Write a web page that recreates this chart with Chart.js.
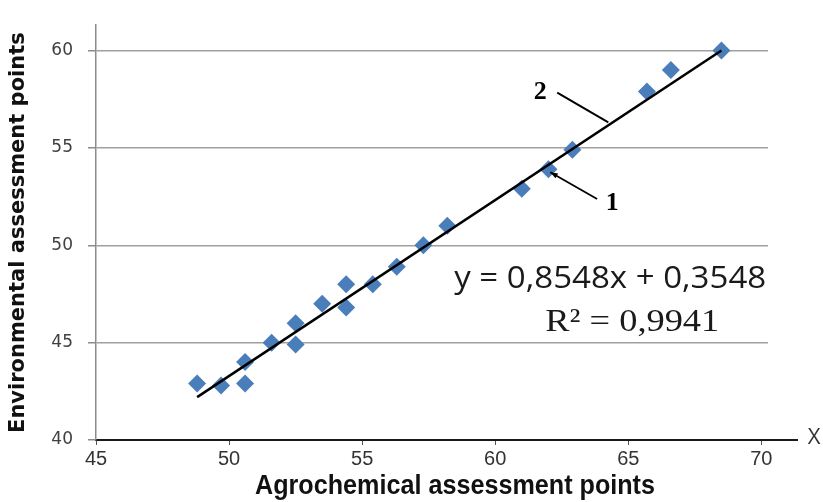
<!DOCTYPE html>
<html>
<head>
<meta charset="utf-8">
<script src="https://cdn.jsdelivr.net/npm/chart.js@4/dist/chart.umd.min.js"></script>
<style>
  html, body { margin: 0; padding: 0; background: #ffffff; }
  #wrap { width: 823px; height: 502px; }
</style>
</head>
<body>
<div id="wrap"><canvas id="c" width="823" height="502"></canvas></div>
<script>
// ---- data ----
const agroPoints = [48.8, 49.7, 50.6, 50.6, 51.6, 52.5, 52.5, 53.5, 54.4, 54.4, 55.4, 56.3, 57.3, 58.2, 61.0, 62.0, 62.9, 65.7, 66.6, 68.5];
const envPoints  = [42.9, 42.8, 42.9, 44.0, 45.0, 44.9, 46.0, 47.0, 48.0, 46.8, 48.0, 48.9, 50.0, 51.0, 52.9, 53.9, 54.9, 57.9, 59.0, 60.0];
const trendX = [48.8, 68.5];
const trendY = [42.2, 60.0];
const xTickValues = [45, 50, 55, 60, 65, 70];
const yTickValues = [40, 45, 50, 55, 60];
const equationText = 'y = 0,8548x + 0,3548';
const r2Text = 'R² = 0,9941';
const xAxisTitle = 'Agrochemical assessment points';
const yAxisTitle = 'Environmental assessment points';

const scatterData = agroPoints.map((x, i) => ({ x: x, y: envPoints[i] }));
const trendData = trendX.map((x, i) => ({ x: x, y: trendY[i] }));

const annotate = {
  id: 'annotate',
  afterDraw(chart) {
    const ctx = chart.ctx;
    const xs = chart.scales.x, ys = chart.scales.y;
    const px = v => xs.getPixelForValue(v);
    const py = v => ys.getPixelForValue(v);
    const area = chart.chartArea;
    ctx.save();

    // extension of the x axis line and its "X" label
    ctx.strokeStyle = '#1a1a1a';
    ctx.lineWidth = 2;
    ctx.beginPath();
    ctx.moveTo(area.right, area.bottom);
    ctx.lineTo(area.right + 30, area.bottom);
    ctx.stroke();
    ctx.fillStyle = '#333333';
    ctx.font = '22px "Open Sans", sans-serif';
    ctx.textAlign = 'center';
    ctx.textBaseline = 'middle';
    ctx.fillText('X', area.right + 46, area.bottom - 2);

    // fitted text helper (condensed horizontally to the reference width)
    function fitText(text, font, cx, cy, targetW, color) {
      ctx.font = font;
      const w = ctx.measureText(text).width;
      ctx.save();
      ctx.translate(cx, cy);
      ctx.scale(targetW / w, 1);
      ctx.fillStyle = color;
      ctx.textAlign = 'center';
      ctx.textBaseline = 'middle';
      ctx.fillText(text, 0, 0);
      ctx.restore();
    }
    fitText(equationText, '31px "Open Sans", sans-serif', px(64.32), py(48.24), 312, '#1a1a1a');
    fitText(r2Text, '32px "Liberation Serif", serif', px(65.15), py(46.03), 174, '#1a1a1a');

    // x axis title
    fitText(xAxisTitle, 'bold 27px "Liberation Sans", Arial, sans-serif', (area.left + area.right) / 2 + 23, chart.height - 15, 400, '#111111');

    // label 2 with leader line
    ctx.fillStyle = '#000';
    ctx.font = 'bold 26px "Liberation Serif", serif';
    ctx.textAlign = 'center';
    ctx.textBaseline = 'middle';
    ctx.fillText('2', px(61.69), py(57.84));
    ctx.strokeStyle = '#000';
    ctx.lineWidth = 2;
    ctx.beginPath();
    ctx.moveTo(px(62.33), py(57.84));
    ctx.lineTo(px(64.25), py(56.31));
    ctx.stroke();

    // label 1 with arrow
    ctx.fillText('1', px(64.4), py(52.18));
    const ax0 = px(63.83), ay0 = py(52.38), ax1 = px(62.07), ay1 = py(53.75);
    ctx.lineWidth = 1.8;
    ctx.beginPath();
    ctx.moveTo(ax0, ay0);
    ctx.lineTo(ax1, ay1);
    ctx.stroke();
    const ang = Math.atan2(ay1 - ay0, ax1 - ax0);
    const ah = 8;
    ctx.beginPath();
    ctx.moveTo(ax1, ay1);
    ctx.lineTo(ax1 - ah * Math.cos(ang - 0.35), ay1 - ah * Math.sin(ang - 0.35));
    ctx.lineTo(ax1 - ah * Math.cos(ang + 0.35), ay1 - ah * Math.sin(ang + 0.35));
    ctx.closePath();
    ctx.fill();

    ctx.restore();
  }
};

new Chart(document.getElementById('c'), {
  type: 'scatter',
  data: {
    datasets: [
      {
        label: 'trend',
        type: 'line',
        data: trendData,
        showLine: true,
        borderColor: '#000000',
        borderWidth: 2.5,
        pointRadius: 0,
        fill: false,
        order: 0
      },
      {
        label: 'points',
        data: scatterData,
        pointStyle: 'rectRot',
        pointRadius: 9,
        pointBackgroundColor: '#4a7ebb',
        pointBorderColor: '#4a7ebb',
        pointBorderWidth: 0,
        order: 1
      }
    ]
  },
  options: {
    responsive: false,
    animation: false,
    events: [],
    layout: { padding: { top: 12, right: 55, left: 0, bottom: 0 } },
    plugins: { legend: { display: false }, tooltip: { enabled: false } },
    scales: {
      x: {
        type: 'linear',
        min: 45,
        max: 70.25,
        afterBuildTicks: s => { s.ticks = xTickValues.map(v => ({ value: v })); },
        afterFit: s => { s.height = 62; },
        ticks: {
          color: '#333333',
          font: { family: '"Liberation Sans", Arial, sans-serif', size: 20 },
          padding: 2,
          maxRotation: 0,
          autoSkip: false
        },
        grid: { drawOnChartArea: false, drawTicks: true, tickLength: 5, color: '#555555' },
        border: { display: true, color: '#1a1a1a', width: 2 },
        title: { display: false, text: xAxisTitle }
      },
      y: {
        type: 'linear',
        min: 40,
        max: 61.3,
        afterBuildTicks: s => { s.ticks = yTickValues.map(v => ({ value: v })); },
        afterFit: s => { s.width = 96; },
        ticks: {
          color: '#404040',
          font: { family: '"DejaVu Sans", sans-serif', size: 17 },
          padding: 15
        },
        grid: { color: '#a0a0a0', lineWidth: 1.5, tickLength: 8, tickColor: '#8c8c8c' },
        border: { display: true, color: '#8c8c8c', width: 1.5 },
        title: {
          display: true,
          text: yAxisTitle,
          color: '#111111',
          font: { family: '"DejaVu Sans", sans-serif', size: 21, weight: 'bold', lineHeight: 1.2 },
          padding: { top: 6, bottom: 0 }
        }
      }
    }
  },
  plugins: [annotate]
});
</script>
</body>
</html>
